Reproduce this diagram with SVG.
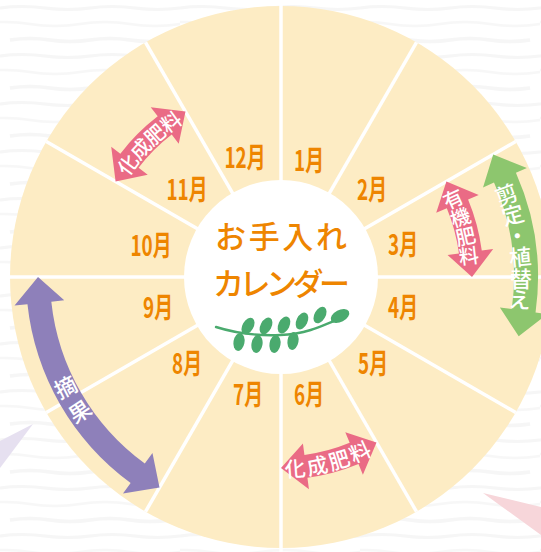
<svg xmlns="http://www.w3.org/2000/svg" xmlns:xlink="http://www.w3.org/1999/xlink" width="541" height="552" viewBox="0 0 541 552">
  <defs>
    <style>
      .month { font-family: "Noto Sans CJK JP", "Noto Sans", sans-serif; font-weight: 700; font-size: 23px; fill: #ee8500; text-anchor: middle; dominant-baseline: central; }
      .title { font-family: "Noto Sans CJK JP", "Noto Sans", sans-serif; font-weight: 500; fill: #ee8500; }
      .tag { font-family: "Noto Sans CJK JP", "Noto Sans", sans-serif; font-weight: 500; fill: #ffffff; text-anchor: middle; dominant-baseline: central; }
      .divider { stroke: #ffffff; stroke-width: 3.5; }
      .leaf { fill: #4aaa6e; }
    </style>
    <!-- faint brush-stroke texture for the backdrop -->
    <pattern id="wave" width="180" height="48" patternUnits="userSpaceOnUse">
      <rect width="180" height="48" fill="#ffffff"/>
      <path d="M0,8 q22,-3 45,0 t45,0 t45,0 t45,0" fill="none" stroke="#f6f6f6" stroke-width="3"/>
      <path d="M-20,24 q25,-4 50,0 t50,0 t50,0 t50,0" fill="none" stroke="#f7f7f7" stroke-width="2.5"/>
      <path d="M10,40 q20,-3 40,0 t40,0 t40,0 t40,0" fill="none" stroke="#f6f6f6" stroke-width="3.5"/>
    </pattern>
    <!-- double arrow bent along a 30 degree arc, radius 191, about the origin -->
    <path id="arcArrow" d="M0,-191 L27.93,-212.17 L26.43,-200.77 A202.5,202.5 0 0 1 77.49,-187.09 L81.89,-197.71 L95.5,-165.41 L64.29,-155.21 L68.69,-165.84 A179.5,179.5 0 0 0 23.43,-177.96 L21.93,-166.56 Z"/>
  </defs>

  <!-- backdrop -->
  <rect width="541" height="552" fill="url(#wave)"/>
  <polygon points="33,424 0,441 0,468" fill="#e6e0f0"/>
  <polygon points="483,493 541,507 541,535" fill="#f7d6da"/>

  <!-- dial -->
  <g id="dial">
    <circle cx="281" cy="277" r="271" fill="#fdecc4"/>
    <g id="dividers" class="divider">
      <line x1="281" y1="277" x2="281" y2="0"/>
      <line x1="281" y1="277" x2="416.5" y2="42.3"/>
      <line x1="281" y1="277" x2="515.7" y2="141.5"/>
      <line x1="281" y1="277" x2="560" y2="277"/>
      <line x1="281" y1="277" x2="515.7" y2="412.5"/>
      <line x1="281" y1="277" x2="416.5" y2="511.7"/>
      <line x1="281" y1="277" x2="281" y2="552"/>
      <line x1="281" y1="277" x2="145.5" y2="511.7"/>
      <line x1="281" y1="277" x2="46.3" y2="412.5"/>
      <line x1="281" y1="277" x2="0" y2="277"/>
      <line x1="281" y1="277" x2="46.3" y2="141.5"/>
      <line x1="281" y1="277" x2="145.5" y2="42.3"/>
    </g>
    <circle cx="281" cy="277" r="97" fill="#ffffff"/>
  </g>

  <!-- month labels -->
  <g id="months">
    <text class="month" transform="translate(309,159) scale(0.82,1.22)">1月</text>
    <text class="month" transform="translate(372,188) scale(0.82,1.22)">2月</text>
    <text class="month" transform="translate(403,243) scale(0.82,1.22)">3月</text>
    <text class="month" transform="translate(403,306) scale(0.82,1.22)">4月</text>
    <text class="month" transform="translate(373,362) scale(0.82,1.22)">5月</text>
    <text class="month" transform="translate(309,393) scale(0.82,1.22)">6月</text>
    <text class="month" transform="translate(248,393) scale(0.82,1.22)">7月</text>
    <text class="month" transform="translate(187,362) scale(0.82,1.22)">8月</text>
    <text class="month" transform="translate(158,306) scale(0.82,1.22)">9月</text>
    <text class="month" transform="translate(151,244) scale(0.82,1.22)">10月</text>
    <text class="month" transform="translate(187,188) scale(0.82,1.22)">11月</text>
    <text class="month" transform="translate(245,156) scale(0.82,1.22)">12月</text>
  </g>

  <!-- centre title and sprig -->
  <g id="title">
    <text class="title" x="215" y="248" font-size="31" textLength="132" lengthAdjust="spacing">お手入れ</text>
    <text class="title" x="213" y="295" font-size="31" textLength="137" lengthAdjust="spacing">カレンダー</text>
  </g>
  <g id="sprig">
    <path d="M216,327 C235,333 255,336 280,335 S318,328 346,316" fill="none" stroke="#4aaa6e" stroke-width="2.4" stroke-linecap="round"/>
    <ellipse class="leaf" cx="248" cy="326" rx="9" ry="5.5" transform="rotate(-60 248 326)"/>
    <ellipse class="leaf" cx="266" cy="326" rx="9" ry="5.5" transform="rotate(-62 266 326)"/>
    <ellipse class="leaf" cx="284" cy="325" rx="9" ry="5.5" transform="rotate(-64 284 325)"/>
    <ellipse class="leaf" cx="302" cy="321" rx="9" ry="5.5" transform="rotate(-64 302 321)"/>
    <ellipse class="leaf" cx="320" cy="315" rx="9" ry="5.5" transform="rotate(-60 320 315)"/>
    <ellipse class="leaf" cx="340" cy="316" rx="10" ry="6" transform="rotate(-28 340 316)"/>
    <ellipse class="leaf" cx="239" cy="342" rx="9" ry="5.5" transform="rotate(100 239 342)"/>
    <ellipse class="leaf" cx="257" cy="344" rx="9" ry="5.5" transform="rotate(100 257 344)"/>
    <ellipse class="leaf" cx="275" cy="344" rx="9" ry="5.5" transform="rotate(100 275 344)"/>
    <ellipse class="leaf" cx="293" cy="341" rx="9" ry="5.5" transform="rotate(100 293 341)"/>
  </g>

  <!-- task arrows -->
  <g id="connectors">
    <g id="fert-chem-autumn">
      <use xlink:href="#arcArrow" transform="translate(281,277) rotate(300)" fill="#ea6b85"/>
      <text class="tag" font-size="20" transform="translate(127.1,163.9) rotate(-53.7)">化</text>
      <text class="tag" font-size="20" transform="translate(139.9,148.2) rotate(-47.6)">成</text>
      <text class="tag" font-size="20" transform="translate(154.4,133.9) rotate(-41.5)">肥</text>
      <text class="tag" font-size="20" transform="translate(170.4,121.3) rotate(-35.4)">料</text>
    </g>
    <g id="fert-organic">
      <use xlink:href="#arcArrow" transform="translate(281,277) rotate(60)" fill="#ea6b85"/>
      <text class="tag" font-size="20" transform="translate(452.7,198.0) rotate(-24.7)">有</text>
      <text class="tag" font-size="20" transform="translate(460.0,216.4) rotate(-18.7)">機</text>
      <text class="tag" font-size="20" transform="translate(465.4,235.5) rotate(-12.7)">肥</text>
      <text class="tag" font-size="20" transform="translate(468.7,254.9) rotate(-6.7)">料</text>
    </g>
    <g id="fert-chem-summer">
      <use xlink:href="#arcArrow" transform="translate(281,277) rotate(150)" fill="#ea6b85"/>
      <text class="tag" font-size="21" transform="translate(295.0,467.5) rotate(-4.2)">化</text>
      <text class="tag" font-size="21" transform="translate(317.1,464.6) rotate(-10.9)">成</text>
      <text class="tag" font-size="21" transform="translate(338.8,459.1) rotate(-17.6)">肥</text>
      <text class="tag" font-size="21" transform="translate(359.6,451.1) rotate(-24.3)">料</text>
    </g>
    <g id="pruning">
      <path d="M493.2,154.5 L526.89,167.95 L515.92,172.81 A257,257 0 0 1 535.55,312.41 L547.44,314.07 L518.7,336.3 L499.89,307.45 L511.78,309.10 A233,233 0 0 0 493.99,182.54 L483.02,187.41 Z" fill="#8dc66e"/>
      <text class="tag" font-size="22" transform="translate(505.8,193.0) rotate(-20.5)">剪</text>
      <text class="tag" font-size="22" transform="translate(512.4,213.3) rotate(-15.4)">定</text>
      <text class="tag" font-size="22" transform="translate(517.1,234.1) rotate(-10.3)">・</text>
      <text class="tag" font-size="22" transform="translate(520.0,255.3) rotate(-5.2)">植</text>
      <text class="tag" font-size="22" transform="translate(521.0,276.6) rotate(0)">替</text>
      <text class="tag" font-size="22" transform="translate(520.1,297.9) rotate(5)">え</text>
    </g>
    <g id="thinning">
      <path d="M38,277 L14.53,305.62 L27.46,304.23 A255,255 0 0 0 130.65,482.96 L122.99,493.46 L159.5,487.4 L152.47,453.08 L144.80,463.58 A231,231 0 0 1 51.32,301.67 L64.25,300.28 Z" fill="#8e80ba"/>
      <text class="tag" font-size="22" transform="translate(64.8,385.7) rotate(-26.7)">摘</text>
      <text class="tag" font-size="22" transform="translate(79.0,410.2) rotate(-33.4)">果</text>
    </g>
  </g>
</svg>
